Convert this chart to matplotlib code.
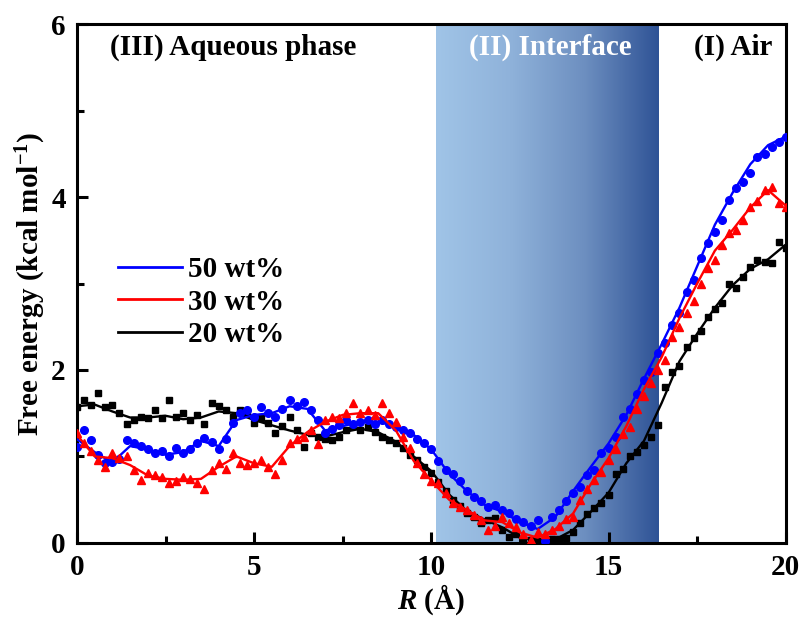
import numpy as np
import matplotlib
matplotlib.use('Agg')
import matplotlib.pyplot as plt
from matplotlib.colors import LinearSegmentedColormap
from matplotlib.ticker import MultipleLocator

plt.rcParams['font.family'] = ['Liberation Serif', 'DejaVu Serif']
plt.rcParams['font.weight'] = 'bold'
plt.rcParams['mathtext.fontset'] = 'custom'
plt.rcParams['mathtext.rm'] = 'Liberation Serif:bold'
plt.rcParams['mathtext.it'] = 'Liberation Serif:italic:bold'
plt.rcParams['mathtext.bf'] = 'Liberation Serif:bold'

# scatter points, R = 0, 0.2, ..., 20 A
r_pts = np.round(np.arange(0, 20.01, 0.2), 1)

fe20_pts = [1.57, 1.65, 1.60, 1.73, 1.57, 1.60, 1.50, 1.38, 1.42, 1.46,
            1.45, 1.54, 1.45, 1.65, 1.46, 1.50, 1.42, 1.48, 1.38, 1.62,
            1.58, 1.54, 1.46, 1.54, 1.50, 1.39, 1.45, 1.39, 1.27, 1.35,
            1.46, 1.30, 1.11, 1.27, 1.22, 1.20, 1.19, 1.23, 1.31, 1.35,
            1.30, 1.34, 1.28, 1.23, 1.19, 1.15, 1.10, 1.02, 0.96, 0.88,
            0.81, 0.70, 0.60, 0.50, 0.43, 0.35, 0.30, 0.23, 0.27, 0.29,
            0.15, 0.07, 0.10, 0.04, 0.03, 0.02, 0.03, 0.05, 0.04, 0.06,
            0.12, 0.23, 0.33, 0.40, 0.46, 0.55, 0.80, 0.85, 1.00, 1.05,
            1.13, 1.23, 1.36, 1.80, 1.98, 2.05, 2.27, 2.37, 2.45, 2.61,
            2.70, 2.77, 3.00, 2.95, 3.07, 3.19, 3.27, 3.25, 3.24, 3.48,
            3.41]

fe50_pts = [1.11, 1.31, 1.19, 1.02, 0.92, 0.94, 0.97, 1.19, 1.15, 1.12,
            1.08, 1.04, 1.06, 1.00, 1.10, 1.04, 1.08, 1.15, 1.21, 1.17,
            1.08, 1.20, 1.39, 1.50, 1.54, 1.46, 1.57, 1.50, 1.46, 1.55,
            1.65, 1.58, 1.63, 1.54, 1.42, 1.27, 1.32, 1.36, 1.42, 1.38,
            1.40, 1.42, 1.38, 1.42, 1.37, 1.34, 1.30, 1.27, 1.20, 1.16,
            1.08, 0.95, 0.84, 0.80, 0.72, 0.60, 0.53, 0.48, 0.42, 0.44,
            0.38, 0.35, 0.28, 0.24, 0.19, 0.27, 0.02, 0.30, 0.38, 0.48,
            0.58, 0.65, 0.78, 0.84, 1.04, 1.10, 1.23, 1.46, 1.55, 1.72,
            1.88, 1.98, 2.20, 2.31, 2.52, 2.66, 2.90, 3.04, 3.30, 3.47,
            3.60, 3.73, 3.97, 4.10, 4.17, 4.28, 4.46, 4.50, 4.58, 4.64,
            4.70]

fe30_pts = [1.27, 1.16, 1.06, 0.96, 0.88, 1.04, 0.98, 1.00, 0.84, 0.73,
            0.81, 0.78, 0.76, 0.69, 0.72, 0.76, 0.74, 0.69, 0.62, 0.84,
            0.92, 0.86, 1.04, 0.92, 0.90, 0.92, 0.96, 0.88, 0.80, 0.96,
            1.16, 1.20, 1.23, 1.31, 1.14, 1.42, 1.46, 1.44, 1.50, 1.62,
            1.50, 1.54, 1.48, 1.62, 1.50, 1.40, 1.23, 1.10, 0.92, 0.80,
            0.72, 0.69, 0.58, 0.46, 0.42, 0.38, 0.32, 0.27, 0.15, 0.19,
            0.30, 0.23, 0.18, 0.10, 0.03, 0.12, 0.10, 0.15, 0.19, 0.28,
            0.30, 0.50, 0.62, 0.73, 0.82, 0.96, 1.08, 1.26, 1.34, 1.55,
            1.70, 1.85, 2.00, 2.12, 2.38, 2.50, 2.66, 2.80, 3.00, 3.18,
            3.27, 3.45, 3.58, 3.62, 3.73, 3.89, 3.95, 4.08, 4.12, 3.93,
            3.89]

# fitted curves, R = 0, 0.5, ..., 20 A
r_fit = np.arange(0, 20.01, 0.5)
fe20_fit = [1.58, 1.60, 1.52, 1.45, 1.45, 1.47, 1.43, 1.45, 1.52, 1.50,
            1.42, 1.36, 1.30, 1.25, 1.23, 1.28, 1.32, 1.28, 1.17, 1.00,
            0.83, 0.56, 0.37, 0.27, 0.18, 0.06, 0.03, 0.04, 0.15, 0.36,
            0.58, 0.92, 1.18, 1.62, 2.10, 2.42, 2.72, 2.98, 3.17, 3.28,
            3.45]
fe50_fit = [1.20, 1.05, 0.93, 1.12, 1.08, 1.02, 1.05, 1.18, 1.12, 1.42,
            1.48, 1.50, 1.58, 1.55, 1.30, 1.35, 1.40, 1.40, 1.35, 1.25,
            1.08, 0.80, 0.60, 0.44, 0.36, 0.24, 0.16, 0.30, 0.60, 0.88,
            1.15, 1.48, 1.90, 2.30, 2.72, 3.20, 3.68, 4.05, 4.38, 4.60,
            4.70]
fe30_fit = [1.25, 1.00, 0.98, 0.90, 0.78, 0.74, 0.73, 0.74, 0.88, 1.00,
            0.92, 0.88, 1.12, 1.28, 1.40, 1.48, 1.50, 1.50, 1.30, 0.95,
            0.72, 0.50, 0.38, 0.26, 0.24, 0.12, 0.06, 0.16, 0.34, 0.68,
            0.98, 1.35, 1.78, 2.15, 2.60, 3.00, 3.38, 3.62, 3.88, 4.08,
            3.90]

interface = (10.13, 16.42)

fig = plt.figure(figsize=(8.01, 6.19), dpi=100)
ax = fig.add_axes([0.096, 0.123, 0.885, 0.838])

cmap = LinearSegmentedColormap.from_list('band', ['#a0c4e7', '#8fb2da', '#6d8fc0', '#2f5396'])
ax.imshow(np.linspace(0, 1, 256).reshape(1, -1), cmap=cmap, aspect='auto',
          extent=[interface[0], interface[1], 0, 6], zorder=0)

ax.plot(r_pts, fe20_pts, 's', color='black', ms=5, zorder=2)
ax.plot(r_fit, fe20_fit, '-', color='black', lw=1.7, zorder=3)
ax.plot(r_pts, fe50_pts, 'o', color='blue', ms=5.5, zorder=4)
ax.plot(r_fit, fe50_fit, '-', color='blue', lw=1.7, zorder=5)
ax.plot(r_pts, fe30_pts, '^', color='red', ms=5.5, zorder=6)
ax.plot(r_fit, fe30_fit, '-', color='red', lw=1.7, zorder=7)

h50, = ax.plot([], [], '-', color='blue', lw=2, label='50 wt%')
h30, = ax.plot([], [], '-', color='red', lw=2, label='30 wt%')
h20, = ax.plot([], [], '-', color='black', lw=2, label='20 wt%')
ax.legend(handles=[h50, h30, h20], loc='upper left', bbox_to_anchor=(0.021, 0.604),
          frameon=False, handlelength=2.2, handletextpad=0.2,
          labelspacing=0.2, prop={'weight': 'bold', 'size': 21})

ax.text(0.93, 5.73, '(III) Aqueous phase', fontsize=21, fontweight='bold', va='center')
ax.text((interface[0] + interface[1]) / 2 + 0.08, 5.73, '(II) Interface', fontsize=21,
        fontweight='bold', color='white', ha='center', va='center')
ax.text(17.4, 5.73, '(I) Air', fontsize=21, fontweight='bold', va='center')

ax.set_xlim(0, 20)
ax.set_ylim(0, 6)
ax.xaxis.set_major_locator(MultipleLocator(5))
ax.xaxis.set_minor_locator(MultipleLocator(2.5))
ax.yaxis.set_major_locator(MultipleLocator(2))
ax.yaxis.set_minor_locator(MultipleLocator(1))
ax.tick_params(which='both', direction='in', top=False, right=False, width=2.2,
               labelsize=21, pad=8)
ax.tick_params(which='major', length=8)
ax.tick_params(which='minor', length=5)
for lab in ax.get_xticklabels() + ax.get_yticklabels():
    lab.set_fontweight('bold')
for sp in ax.spines.values():
    sp.set_linewidth(2.2)

ax.set_xlabel(r'$\mathit{R}$ (Å)', fontsize=21, fontweight='bold', labelpad=1)
ax.set_ylabel(r'Free energy (kcal mol$^{-1}$)', fontsize=21, fontweight='bold', labelpad=2)

plt.savefig('out.png', dpi=100)
